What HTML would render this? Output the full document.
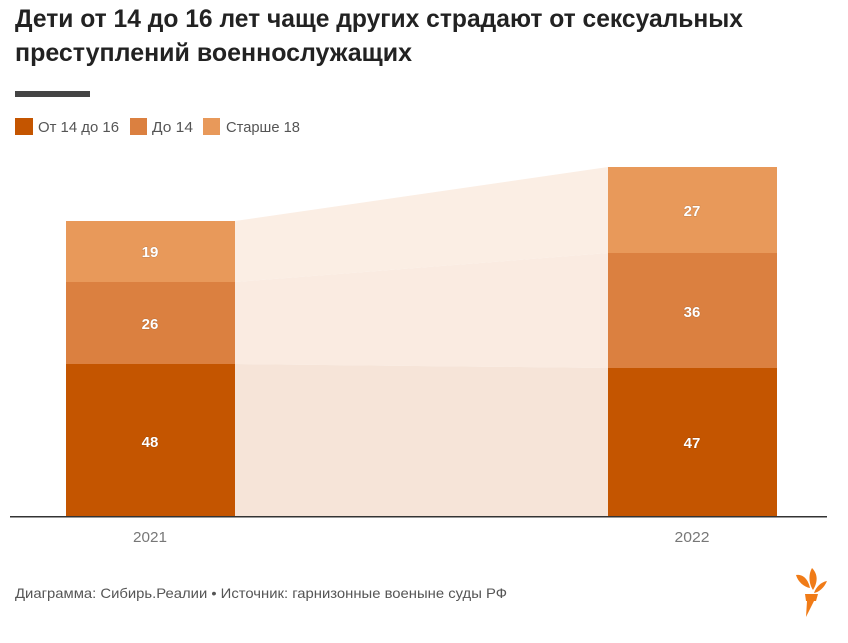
<!DOCTYPE html>
<html><head><meta charset="utf-8"><style>
html,body{margin:0;padding:0;background:#fff;}
svg{display:block;}
text{font-family:"Liberation Sans",sans-serif;}
</style></head><body>
<svg width="848" height="643" viewBox="0 0 848 643" xmlns="http://www.w3.org/2000/svg">
<rect width="848" height="643" fill="#fff"/>
<text x="15" y="27" font-size="25" font-weight="bold" fill="#222" textLength="728" lengthAdjust="spacingAndGlyphs">Дети от 14 до 16 лет чаще других страдают от сексуальных</text>
<text x="15" y="61" font-size="25" font-weight="bold" fill="#222" textLength="397" lengthAdjust="spacingAndGlyphs">преступлений военнослужащих</text>
<rect x="15" y="91" width="75" height="6" fill="#444"/>
<rect x="15" y="118" width="18" height="17" fill="#c45500"/>
<text x="38" y="132" font-size="15" fill="#555" textLength="81" lengthAdjust="spacingAndGlyphs">От 14 до 16</text>
<rect x="130" y="118" width="17" height="17" fill="#db8040"/>
<text x="152" y="132" font-size="15" fill="#555" textLength="41" lengthAdjust="spacingAndGlyphs">До 14</text>
<rect x="203" y="118" width="17" height="17" fill="#e8995a"/>
<text x="226" y="132" font-size="15" fill="#555" textLength="74" lengthAdjust="spacingAndGlyphs">Старше 18</text>
<!-- bands -->
<polygon points="235,221 608,167 608,253 235,282" fill="#fbeee4"/>
<polygon points="235,282 608,253 608,368 235,364" fill="#faebe1"/>
<polygon points="235,364 608,368 608,517 235,517" fill="#f6e4d8"/>
<!-- bars 2021 -->
<rect x="66" y="221" width="169" height="61" fill="#e8995a"/>
<rect x="66" y="282" width="169" height="82" fill="#db8040"/>
<rect x="66" y="364" width="169" height="153" fill="#c45500"/>
<!-- bars 2022 -->
<rect x="608" y="167" width="169" height="86" fill="#e8995a"/>
<rect x="608" y="253" width="169" height="115" fill="#db8040"/>
<rect x="608" y="368" width="169" height="149" fill="#c45500"/>
<g font-size="15" font-weight="bold" fill="#fff" text-anchor="middle" style="paint-order:stroke" stroke="rgba(0,0,0,0.15)" stroke-width="1">
<text x="150" y="257">19</text>
<text x="150" y="329">26</text>
<text x="150" y="447">48</text>
<text x="692" y="216">27</text>
<text x="692" y="317">36</text>
<text x="692" y="448">47</text>
</g>
<rect x="10" y="516" width="817" height="1.5" fill="#333"/>
<text x="150" y="542" font-size="15" fill="#777" text-anchor="middle" textLength="34" lengthAdjust="spacingAndGlyphs">2021</text>
<text x="692" y="542" font-size="15" fill="#777" text-anchor="middle" textLength="35" lengthAdjust="spacingAndGlyphs">2022</text>
<text x="15" y="598" font-size="14" fill="#555" textLength="492" lengthAdjust="spacingAndGlyphs">Диаграмма: Сибирь.Реалии • Источник: гарнизонные военыне суды РФ</text>
<!-- logo -->
<g fill="#f07b17">
<path d="M796,575 C803,574 808,579 810,588 C804,587 798,582 796,575 Z"/>
<path d="M812,568 C818,574 818,582 813,590 C809,584 808,575 812,568 Z"/>
<path d="M827,581 C824,588 819,592 814,593 C816,587 821,582 827,581 Z"/>
<polygon points="805,594 818,594 816,601 806,601"/>
<polygon points="807,601 814,601 806,617"/>
</g>
</svg>
</body></html>
